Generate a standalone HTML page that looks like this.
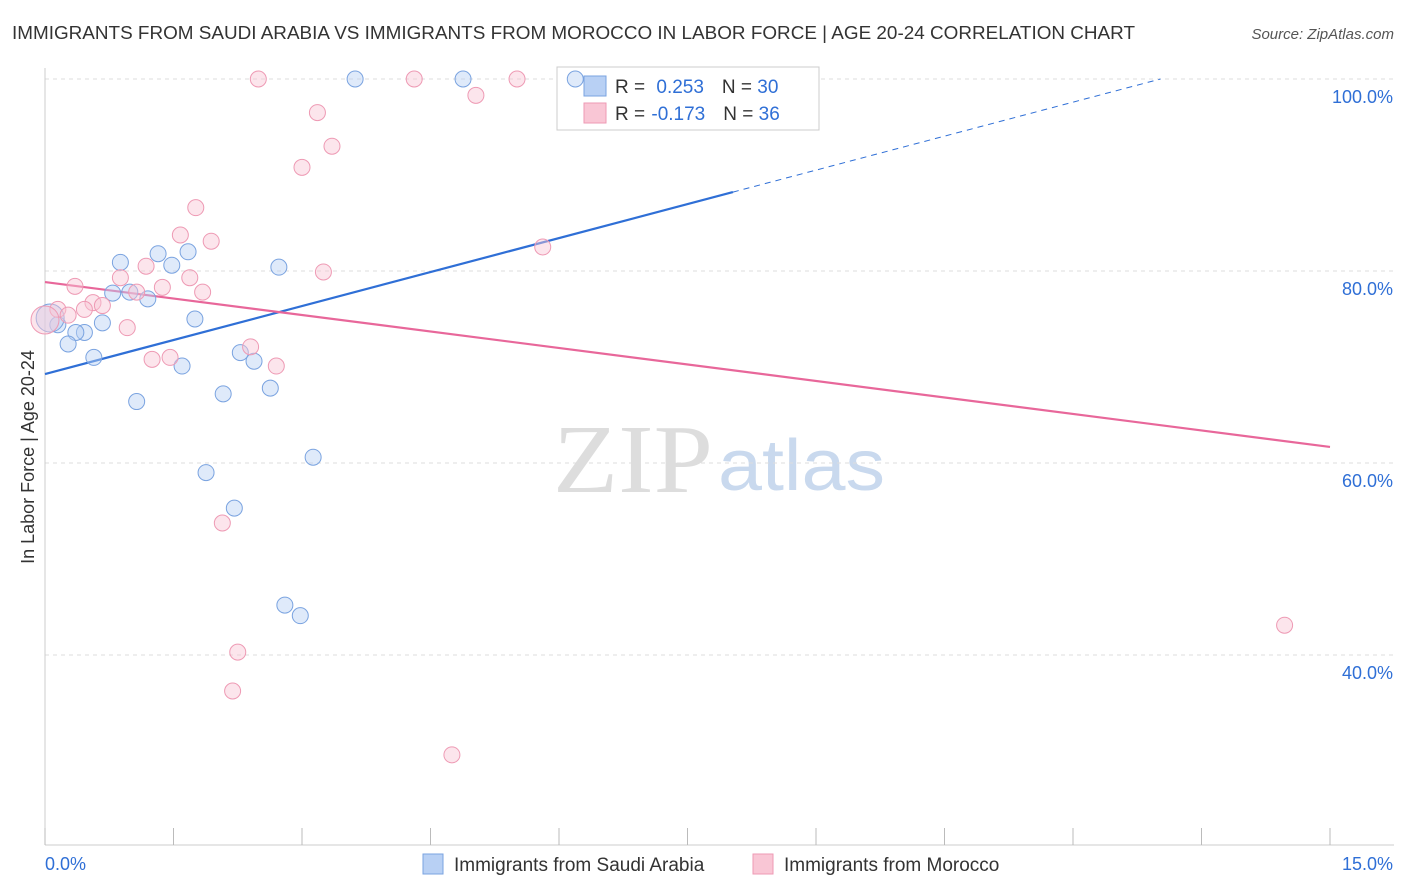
<!DOCTYPE html>
<html><head><meta charset="utf-8">
<style>
body{margin:0;background:#fff;font-family:"Liberation Sans",Arial,sans-serif;}
svg{display:block}
</style></head>
<body>
<svg id="chart" width="1406" height="892">
<text x="12" y="39" font-size="18" fill="#333" textLength="1123" lengthAdjust="spacingAndGlyphs">IMMIGRANTS FROM SAUDI ARABIA VS IMMIGRANTS FROM MOROCCO IN LABOR FORCE | AGE 20-24 CORRELATION CHART</text>
<text x="1394" y="39" font-size="15" fill="#555" text-anchor="end" font-style="italic">Source: ZipAtlas.com</text>
<text x="553" y="492" font-size="98" fill="#ddd" font-family="Liberation Serif,serif" textLength="160" lengthAdjust="spacingAndGlyphs">ZIP</text>
<text x="718" y="490" font-size="72" fill="#c9d9ee" textLength="167" lengthAdjust="spacingAndGlyphs">atlas</text>
<text transform="translate(34,457) rotate(-90)" font-size="18" fill="#333" text-anchor="middle">In Labor Force | Age 20-24</text>
<g id="grid"></g><g id="axes"></g><g id="lines"></g>
<g>
<rect x="557" y="67" width="262" height="63" fill="#fff" stroke="#ccc"/>
<rect x="584" y="76" width="22" height="20" fill="#b8d0f4" stroke="#7aa3e0"/>
<rect x="584" y="103" width="22" height="20" fill="#f9c6d5" stroke="#ee9ab4"/>
<text x="615" y="93" font-size="19" fill="#333">R = <tspan fill="#2f6fd6" dx="6">0.253</tspan><tspan dx="18">N = </tspan><tspan fill="#2f6fd6">30</tspan></text>
<text x="615" y="120" font-size="19" fill="#333">R = <tspan fill="#2f6fd6" dx="1">-0.173</tspan><tspan dx="18">N = </tspan><tspan fill="#2f6fd6">36</tspan></text>
</g>
<g id="pts"></g>
<g>
<rect x="423" y="854" width="20" height="20" fill="#b8d0f4" stroke="#7aa3e0"/>
<text x="454" y="871" font-size="19" fill="#333">Immigrants from Saudi Arabia</text>
<rect x="753" y="854" width="20" height="20" fill="#f9c6d5" stroke="#ee9ab4"/>
<text x="784" y="871" font-size="19" fill="#333">Immigrants from Morocco</text>
</g>
</svg>
<script>
const blueX=[6.19,3.62,4.88,0.88,1.32,1.48,1.67,2.73,0.79,0.99,1.20,1.75,0.67,0.46,0.36,0.15,0.27,0.57,2.28,2.44,1.60,2.63,2.08,1.07,1.88,2.21,3.13,2.80,2.98,0.06];
const blueY=[100,100,100,80.9,81.8,80.6,82.0,80.4,77.7,77.8,77.1,75.0,74.6,73.6,73.6,74.4,72.4,71.0,71.5,70.6,70.1,67.8,67.2,66.4,59.0,55.3,60.6,45.2,44.1,75.1];
const pinkX=[2.49,4.31,5.51,5.03,3.18,3.35,3.00,1.76,1.58,1.94,5.81,3.25,1.18,1.69,0.88,0.35,1.37,1.84,1.07,0.56,0.67,0.46,0.15,0.27,0.96,1.25,1.46,2.40,2.70,2.07,2.25,2.19,4.75,14.47,0.0];
const pinkY=[100,100,100,98.3,96.5,93.0,90.8,86.6,83.75,83.1,82.5,79.9,80.5,79.3,79.3,78.4,78.3,77.8,77.8,76.7,76.4,76.0,76.0,75.4,74.1,70.8,71.0,72.1,70.1,53.75,40.3,36.25,29.6,43.1,74.9];
const yTicks=[40,60,80,100];
const yTickLabels=["40.0%","60.0%","80.0%","100.0%"];
const blueTrend=[69.27,2.36]; const blueSolidEnd=8.03;
const pinkTrend=[78.85,-1.145];
const NS="http://www.w3.org/2000/svg";
const sx=v=>45+v/15*1285, sy=v=>79+(100-v)*9.6;
function mk(t,a,p){const e=document.createElementNS(NS,t);for(const k in a)e.setAttribute(k,a[k]);p.appendChild(e);return e;}
const grid=document.getElementById('grid'),axes=document.getElementById('axes'),lines=document.getElementById('lines'),pts=document.getElementById('pts');
yTicks.forEach((t,i)=>{
 const l=mk('line',{x1:45,x2:1394,y1:sy(t),y2:sy(t),stroke:'#ddd','stroke-dasharray':'4,4'},grid);
 
 
 const tx=mk('text',{x:1393,y:sy(t)+24,'font-size':18,fill:'#2f6fd6','text-anchor':'end'},axes);
 tx.textContent=yTickLabels[i];
 
 
});
mk('line',{x1:45,x2:45,y1:68,y2:845,stroke:'#ccc'},axes);
mk('line',{x1:45,x2:1394,y1:845,y2:845,stroke:'#ccc'},axes);
for(let i=0;i<=10;i++){const t=mk('line',{x1:sx(i*1.5),x2:sx(i*1.5),y1:828,y2:845,stroke:'#bbb'},axes);
 
 }
let a=mk('text',{x:45,y:870,'font-size':18,fill:'#2f6fd6'},axes);a.textContent='0.0%';


a=mk('text',{x:1393,y:870,'font-size':18,fill:'#2f6fd6','text-anchor':'end'},axes);a.textContent='15.0%';


function drawPts(xs,ys,fill,stroke,name){xs.forEach((x,i)=>{
 const r=(x<0.1)?14:8;
 const c=mk('circle',{cx:sx(x),cy:sy(ys[i]),r:r,fill:fill,'fill-opacity':0.45,stroke:stroke,'stroke-width':1},pts);
 
 });}
drawPts(blueX,blueY,'#b8d0f4','#7aa3e0','saudi-arabia-point');
drawPts(pinkX,pinkY,'#f9c6d5','#ee9ab4','morocco-point');
const bf=x=>blueTrend[0]+blueTrend[1]*x;
let l=mk('line',{x1:sx(0),y1:sy(bf(0)),x2:sx(blueSolidEnd),y2:sy(bf(blueSolidEnd)),stroke:'#2f6fd6','stroke-width':2.2},lines);


const xe=(100-blueTrend[0])/blueTrend[1];
l=mk('line',{x1:sx(blueSolidEnd),y1:sy(bf(blueSolidEnd)),x2:sx(xe),y2:sy(100),stroke:'#2f6fd6','stroke-width':1,'stroke-dasharray':'6,5'},lines);


const pf=x=>pinkTrend[0]+pinkTrend[1]*x;
l=mk('line',{x1:sx(0),y1:sy(pf(0)),x2:sx(15),y2:sy(pf(15)),stroke:'#e8679a','stroke-width':2.2},lines);


</script>
</body></html>
